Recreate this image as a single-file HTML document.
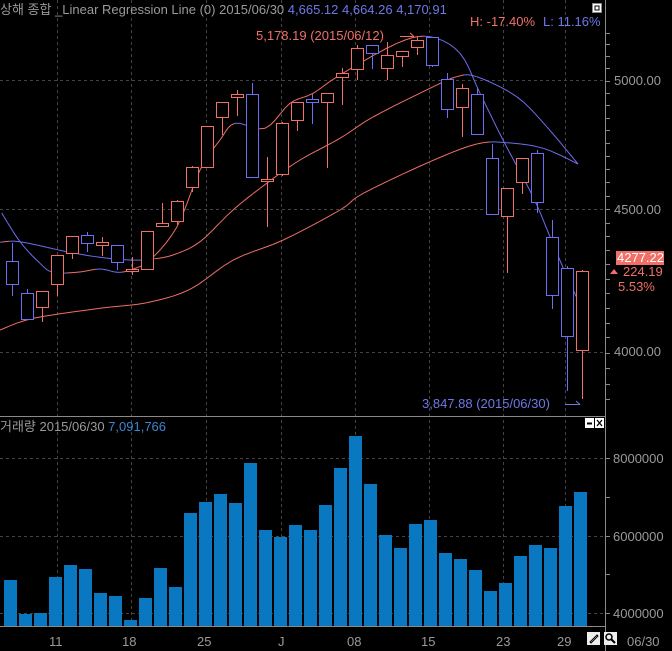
<!DOCTYPE html>
<html><head><meta charset="utf-8"><style>
html,body{margin:0;padding:0;background:#000;width:672px;height:651px;overflow:hidden}
svg{display:block}
text{font-family:"Liberation Sans","Noto Sans CJK KR",sans-serif;font-size:13px}
</style></head><body>
<svg id="s" width="672" height="651" viewBox="0 0 672 651" xmlns="http://www.w3.org/2000/svg">
<rect width="672" height="651" fill="#000"/>
<g id="grid" stroke="#444" stroke-dasharray="3,3" stroke-width="1"></g>
<g id="lines" fill="none" stroke-width="1"></g>
<g id="candles" fill="none" stroke-width="1"></g>
<g id="vol" fill="#0a78c0"></g>
<g id="axis" stroke="#8a8a8a" stroke-width="1">
<line x1="605.5" y1="0" x2="605.5" y2="651"/>
<line x1="0" y1="416.5" x2="605" y2="416.5"/>
<line x1="0" y1="626.5" x2="605" y2="626.5"/>
</g>
<g id="ticks" stroke="#8a8a8a"></g>
<text x="0" y="14" fill="#9a9a9a">상해 종합 _Linear Regression Line  (0) 2015/06/30 <tspan fill="#6e78e6">4,665.12 4,664.26 4,170.91</tspan></text>
<text x="470" y="26" fill="#f07068">H: -17.40%</text>
<text x="543" y="26" fill="#6e78e6">L: 11.16%</text>
<rect x="592.5" y="3.5" width="9" height="9" fill="#fff" stroke="#888"/>
<rect x="595" y="6" width="4" height="4" fill="none" stroke="#000"/>
<text x="256" y="40" fill="#f07068">5,178.19 (2015/06/12)</text>
<line x1="400" y1="36.5" x2="414" y2="36.5" stroke="#f07068"/><path d="M410,33 L414,36.5" stroke="#f07068"/>
<text x="422" y="408" fill="#6e78e6">3,847.88 (2015/06/30)</text>
<line x1="565" y1="404.5" x2="580" y2="404.5" stroke="#6e78e6"/><path d="M576,401 L580,404.5" stroke="#6e78e6"/>
<rect x="616" y="251" width="48" height="14" fill="#f07068"/>
<text x="617" y="262" fill="#fff">4277.22</text>
<path d="M610,274 L614,269 L618,274Z" fill="#f07068"/>
<text x="623" y="276" fill="#f07068">224.19</text>
<text x="618" y="291" fill="#f07068">5.53%</text>
<text x="614" y="85" fill="#9a9a9a">5000.00</text>
<text x="614" y="214" fill="#9a9a9a">4500.00</text>
<text x="614" y="356" fill="#9a9a9a">4000.00</text>
<text x="613" y="463" fill="#9a9a9a">8000000</text>
<text x="613" y="541" fill="#9a9a9a">6000000</text>
<text x="613" y="618" fill="#9a9a9a">4000000</text>
<text x="0" y="431" fill="#9a9a9a">거래량  2015/06/30 <tspan fill="#3a86d0">7,091,766</tspan></text>
<rect x="585" y="418" width="9" height="10" fill="#fff"/><line x1="587" y1="423.5" x2="592" y2="423.5" stroke="#000" stroke-width="2"/>
<rect x="595" y="418" width="9" height="10" fill="#fff"/><path d="M597,420 L602,426 M602,420 L597,426" stroke="#000" stroke-width="1.3"/>
<g fill="#9a9a9a">
<text x="49" y="646">11</text><text x="122" y="646">18</text><text x="197" y="646">25</text><text x="278" y="646">J</text>
<text x="347" y="646">08</text><text x="421" y="646">15</text><text x="496" y="646">23</text><text x="557" y="646">29</text>
<text x="627" y="646">06/30</text>
</g>
<rect x="587" y="632" width="13" height="13" fill="#eee"/><path d="M590,642 L597,635 L598,636 L591,643Z" fill="none" stroke="#000"/>
<rect x="604" y="632" width="13" height="13" fill="#eee"/><circle cx="609" cy="637" r="3" fill="none" stroke="#000" stroke-width="1.5"/><line x1="611" y1="639" x2="615" y2="643" stroke="#000" stroke-width="2"/>
</svg>
<script>
var NS="http://www.w3.org/2000/svg";
function el(p,t,a){var e=document.createElementNS(NS,t);for(var k in a)e.setAttribute(k,a[k]);document.getElementById(p).appendChild(e);return e;}
var R="#f07068",B="#6e6ef0";
function py(p){var b=128.5/Math.log(5000/4500);return 80.5-b*Math.log(p/5000);}
[57,131,206,281,355,429,503,565].forEach(function(x){el("grid","line",{x1:x+.5,y1:0,x2:x+.5,y2:626});});
[80.5,209.5,352.5,458.5,536.5,613.5].forEach(function(y){el("grid","line",{x1:0,y1:y,x2:605,y2:y});});
for(var p=3850;p<=5200;p+=50){var y=Math.round(py(p))+.5;el("ticks","line",{x1:606,y1:y,x2:610,y2:y});}
[458.5,497.5,536.5,574.5,613.5].forEach(function(y){el("ticks","line",{x1:606,y1:y,x2:610,y2:y});});
var C=[[261,284,243,296,B],[293,319,289,319,B],[291,307,291,322,R],[255,284,255,296,R],[236,253,236,259,R],[235,243,232,252,B],[242,245,237,256,R],[245,262,245,270,B],[269,271,257,275,R],[231,269,231,269,R],
[223,226,203,226,R],[201,221,200,225,R],[167,187,166,192,R],[126,167,126,167,R],[102,117,102,135,R],[94,97,90,116,R],[94,177,83,177,B],[179,181,157,227,R],[123,174,122,176,R],[102,120,102,131,R],
[99,102,94,124,B],[93,102,93,168,R],[73,77,68,105,R],[48,69,45,80,R],[45,53,45,69,B],[55,68,42,80,R],[51,56,51,67,R],[40,47,37,55,R],[37,65,37,67,B],[79,109,73,118,B],
[88,107,84,137,R],[94,134,88,134,B],[158,214,144,214,B],[188,216,188,273,R],[158,182,158,194,R],[153,202,150,213,B],[237,295,220,309,B],[268,336,266,391,B],[271,350,270,399,R]];
C.forEach(function(c,i){var x=Math.round(11.5+15*i);
el("candles","line",{x1:x+.5,y1:c[2],x2:x+.5,y2:c[3],stroke:c[4]});
var h=Math.max(2,c[1]-c[0]);
el("candles","rect",{x:x-5.5,y:c[0]+.5,width:12,height:h,stroke:c[4],fill:"#000"});});
var V=[580,614,613,577,565,569,593,596,620,598,568,587,513,502,494,503,463,530,537,525,530,505,468,436,484,535,548,524,520,553,559,570,591,583,556,545,548,506,492];
V.forEach(function(y,i){el("vol","rect",{x:4+15*i,y:y,width:13,height:626-y});});
function draw(pts){for(var i=1;i<pts.length;i++){var a=pts[i-1],b=pts[i];
el("lines","line",{x1:a[0],y1:a[1],x2:b[0],y2:b[1],stroke:(b[1]<a[1]-0.3)?R:B});}}
function smooth(pts){var o=[];for(var i=0;i<pts.length-1;i++){var p0=pts[Math.max(0,i-1)],p1=pts[i],p2=pts[i+1],p3=pts[Math.min(pts.length-1,i+2)];
for(var t=0;t<1;t+=0.2){var t2=t*t,t3=t2*t;o.push([0.5*((2*p1[0])+(-p0[0]+p2[0])*t+(2*p0[0]-5*p1[0]+4*p2[0]-p3[0])*t2+(-p0[0]+3*p1[0]-3*p2[0]+p3[0])*t3),
0.5*((2*p1[1])+(-p0[1]+p2[1])*t+(2*p0[1]-5*p1[1]+4*p2[1]-p3[1])*t2+(-p0[1]+3*p1[1]-3*p2[1]+p3[1])*t3)]);}}o.push(pts[pts.length-1]);return o;}
draw(smooth([[1.7,213],[20,241.7],[40,263.3],[53,272.3],[77,272.3],[100,269],[117,272.3],[130,270],[150,260],[177,226.7],[200,170],[220,140],[235,123.3],[265,128.3],[290,103.3],[313,93.3],[340,75],[397,43.3],[430,36.7],[460,53.3],[480,93.3],[503,140],[533,196.7],[550,236.7],[567,276.7],[578,300]]));
draw(smooth([[0,242.3],[20,241.7],[66.7,251.7],[100,257.3],[130,260],[150,259.3],[173,255],[200,241.7],[233,210],[266.7,183.3],[300,160],[340,138.3],[373,117],[430,88.3],[456.7,76.7],[476.7,76.7],[516.7,96.7],[546.7,126.7],[578,164]]));
draw(smooth([[0,330],[33.3,318.3],[100,308.3],[146.7,302.7],[190,289.3],[233.3,260],[283.3,240],[340,210],[363.3,193.3],[430,161.7],[476.7,144],[506.7,142.7],[543.3,148.3],[578,164]]));
</script>
</body></html>
